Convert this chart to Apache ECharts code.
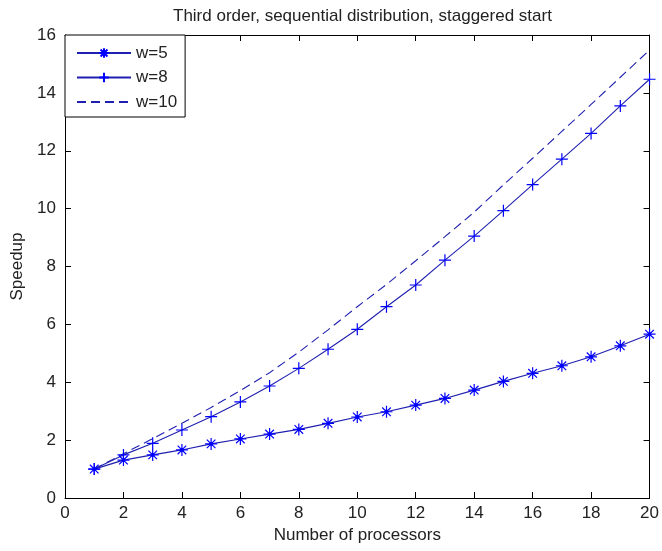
<!DOCTYPE html>
<html>
<head>
<meta charset="utf-8">
<script src="https://cdn.jsdelivr.net/npm/echarts@6/dist/echarts.min.js"></script>
<style>html,body{margin:0;padding:0;background:#fff;}#c{width:662px;height:551px;}</style>
</head>
<body>
<div id="c"></div>
<script>
var titleText = 'Third order, sequential distribution, staggered start';
var xName = 'Number of processors';
var yName = 'Speedup';
var processors = [1,2,3,4,5,6,7,8,9,10,11,12,13,14,15,16,17,18,19,20];
var seriesNames = ['w=5','w=8','w=10'];
var w5  = [1.0,1.31,1.49,1.66,1.87,2.04,2.21,2.37,2.58,2.80,2.98,3.21,3.44,3.73,4.03,4.31,4.57,4.88,5.26,5.66];
var w8  = [1.0,1.49,1.89,2.35,2.81,3.32,3.87,4.48,5.14,5.83,6.61,7.36,8.22,9.05,9.93,10.83,11.71,12.60,13.55,14.47];
var w10 = [1.0,1.53,2.05,2.58,3.13,3.71,4.33,5.04,5.81,6.61,7.38,8.2,9.03,9.88,10.82,11.74,12.67,13.60,14.54,15.48];
var xTicks = [0,2,4,6,8,10,12,14,16,18,20];
var yTicks = [0,2,4,6,8,10,12,14,16];

function pairs(ys){ return processors.map(function(x,i){ return [x, ys[i]]; }); }

var FONT = 'Liberation Sans, Arial, sans-serif';
var TXT = '#222222';
var blue = '#0000ff';
var lineBlue = '#2020b0';
var asterisk = 'path://M0,-6L0,6M-6,0L6,0M-4.3,-4.3L4.3,4.3M-4.3,4.3L4.3,-4.3M-1.3,-1.3L1.3,-1.3L1.3,1.3L-1.3,1.3Z';
var plus = 'path://M0,-6L0,6M-6,0L6,0';

var axisCommon = {
  type: 'value',
  axisLine: { show: true, onZero: false, lineStyle: { color: '#000', width: 1 } },
  axisTick: { show: true, inside: true, length: 6, lineStyle: { color: '#000' } },
  splitLine: { show: false }
};

var chart = echarts.init(document.getElementById('c'), null, { renderer: 'canvas' });
chart.setOption({
  backgroundColor: '#ffffff',
  animation: false,
  title: {
    text: titleText,
    left: 168, top: 3,
    textStyle: { fontFamily: FONT, fontSize: 17, fontWeight: 'normal', color: TXT }
  },
  grid: { left: 65, right: 10, top: 35, bottom: 53, containLabel: false },
  legend: {
    data: [seriesNames[0], seriesNames[1], { name: seriesNames[2], itemStyle: { opacity: 0 } }],
    orient: 'vertical',
    left: 65, top: 35,
    padding: [9, 8, 6, 11],
    itemGap: 6.5,
    itemWidth: 54,
    itemHeight: 12,
    backgroundColor: '#fff',
    borderColor: '#000',
    borderWidth: 1,
    borderRadius: 0,
    textStyle: { fontFamily: FONT, fontSize: 17, color: TXT, lineHeight: 18 }
  },
  xAxis: [
    Object.assign({}, axisCommon, {
      position: 'bottom', min: 0, max: 20, interval: 2,
      name: xName, nameLocation: 'middle', nameGap: 27,
      nameTextStyle: { fontFamily: FONT, fontSize: 17, color: TXT },
      axisLabel: { margin: 7, fontFamily: FONT, fontSize: 17, color: TXT,
        formatter: function(v){ return xTicks.indexOf(v) >= 0 ? String(v) : ''; } }
    }),
    Object.assign({}, axisCommon, {
      position: 'top', min: 0, max: 20, interval: 2,
      axisLabel: { show: false }
    })
  ],
  yAxis: [
    Object.assign({}, axisCommon, {
      position: 'left', min: 0, max: 16, interval: 2,
      name: yName, nameLocation: 'middle', nameGap: 34,
      nameTextStyle: { fontFamily: FONT, fontSize: 17, color: TXT },
      axisLabel: { margin: 9, fontFamily: FONT, fontSize: 17, color: TXT,
        formatter: function(v){ return yTicks.indexOf(v) >= 0 ? String(v) : ''; } }
    }),
    Object.assign({}, axisCommon, {
      position: 'right', min: 0, max: 16, interval: 2,
      axisLabel: { show: false }
    })
  ],
  series: [
    {
      name: seriesNames[0], type: 'line', data: pairs(w5),
      xAxisIndex: 0, yAxisIndex: 0,
      symbol: asterisk, symbolSize: 12, symbolKeepAspect: true, showSymbol: true,
      color: blue,
      itemStyle: { color: blue, borderColor: blue, borderWidth: 1.2 },
      lineStyle: { color: lineBlue, width: 1.2 },
      z: 3
    },
    {
      name: seriesNames[1], type: 'line', data: pairs(w8),
      xAxisIndex: 0, yAxisIndex: 0,
      symbol: plus, symbolSize: 12, symbolKeepAspect: true, showSymbol: true,
      color: blue,
      itemStyle: { color: blue, borderColor: blue, borderWidth: 1.2 },
      lineStyle: { color: lineBlue, width: 1.1 },
      z: 3
    },
    {
      name: seriesNames[2], type: 'line', data: pairs(w10),
      xAxisIndex: 0, yAxisIndex: 0,
      symbol: 'none', showSymbol: false,
      color: blue,
      lineStyle: { color: lineBlue, width: 1.1, type: [9, 5] },
      z: 2
    }
  ]
});
</script>
</body>
</html>
